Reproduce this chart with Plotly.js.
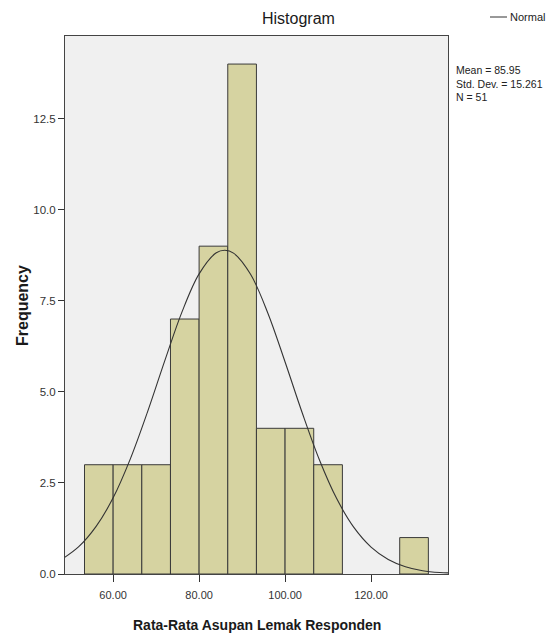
<!DOCTYPE html>
<html>
<head>
<meta charset="utf-8">
<script src="https://cdn.plot.ly/plotly-3.0.1.min.js"></script>
<style>html,body{margin:0;padding:0;background:#fff;}#chart{width:548px;height:638px;}</style>
</head>
<body>
<div id="chart"></div>
<script>
// Histogram bins (centers) and frequencies
var binCenters = [56.67, 63.33, 70.00, 76.67, 83.33, 90.00, 96.67, 103.33, 110.00, 130.00];
var binCounts  = [3, 3, 3, 7, 9, 14, 4, 4, 3, 1];
var binWidth = 6.667;

// Normal curve (matches Mean 85.95, SD 15.261, N 51)
var curveX = [48, 52, 56, 60, 64, 68, 72, 76, 80, 84, 86, 88, 92, 96, 100, 104, 108, 112, 116, 120, 124, 128, 132, 136, 138];
var curveY = [0.40, 0.75, 1.30, 2.09, 3.16, 4.45, 5.85, 7.19, 8.24, 8.82, 8.89, 8.81, 8.22, 7.16, 5.82, 4.42, 3.13, 2.07, 1.28, 0.74, 0.40, 0.20, 0.09, 0.04, 0.03];

var xTicks = [60, 80, 100, 120];
var xTickText = ["60.00", "80.00", "100.00", "120.00"];
var yTicks = [0, 2.5, 5, 7.5, 10, 12.5];
var yTickText = ["0.0", "2.5", "5.0", "7.5", "10.0", "12.5"];

var statsLines = ["Mean = 85.95", "Std. Dev. = 15.261", "N = 51"];
var chartTitle = "Histogram";
var xTitle = "Rata-Rata Asupan Lemak Responden";
var yTitle = "Frequency";
var legendLabel = "Normal";

var FONT = "Liberation Sans, Arial, sans-serif";

// pixel helpers for paper coords (plot area 65..448 x, 36..574 y)
var L = 65, R = 448, T = 36, B = 574;
function px(x){ return (x - L) / (R - L); }
function py(y){ return (B - y) / (B - T); }

var bars = {
  type: 'bar',
  x: binCenters,
  y: binCounts,
  width: binCenters.map(function(){ return binWidth; }),
  marker: {color: '#d6d3a1', line: {color: '#3a3a3a', width: 1}},
  hoverinfo: 'x+y',
  showlegend: false
};
var curve = {
  type: 'scatter',
  mode: 'lines',
  x: curveX,
  y: curveY,
  line: {color: '#333333', width: 1.1, shape: 'spline'},
  showlegend: false
};

var annotations = [
  {xref: 'paper', yref: 'paper', x: px(298), y: py(18), text: chartTitle, showarrow: false,
   xanchor: 'center', yanchor: 'middle', font: {family: FONT, size: 16, color: '#1a1a1a'}},
  {xref: 'paper', yref: 'paper', x: px(508), y: py(17), text: legendLabel, showarrow: false,
   xanchor: 'left', yanchor: 'middle', font: {family: FONT, size: 11, color: '#222'}},
  {xref: 'paper', yref: 'paper', x: px(257), y: py(625), text: '<b>' + xTitle + '</b>', showarrow: false,
   xanchor: 'center', yanchor: 'middle', font: {family: FONT, size: 14, color: '#1a1a1a'}},
  {xref: 'paper', yref: 'paper', x: px(22), y: py(306), text: '<b>' + yTitle + '</b>', showarrow: false,
   textangle: -90, xanchor: 'center', yanchor: 'middle', font: {family: FONT, size: 16, color: '#1a1a1a'}},
  {xref: 'paper', yref: 'paper', x: px(454), y: py(83), text: statsLines.join('<br>'), showarrow: false,
   xanchor: 'left', yanchor: 'middle', align: 'left', font: {family: FONT, size: 10.5, color: '#222'}}
];

var layout = {
  width: 548, height: 638,
  margin: {l: L, r: 548 - R, t: T, b: 638 - B, pad: 0},
  paper_bgcolor: '#ffffff',
  plot_bgcolor: '#f0f0f0',
  bargap: 0,
  xaxis: {
    range: [48.8, 137.9],
    tickvals: xTicks, ticktext: xTickText,
    ticks: 'outside', ticklen: 7, tickcolor: '#333', tickwidth: 1,
    ticklabelstandoff: 4,
    showgrid: false, zeroline: false,
    showline: true, linecolor: '#444', linewidth: 1, mirror: true,
    tickfont: {family: FONT, size: 11, color: '#333'}
  },
  yaxis: {
    range: [0, 14.77],
    tickvals: yTicks, ticktext: yTickText,
    ticks: 'outside', ticklen: 6, tickcolor: '#333', tickwidth: 1,
    showgrid: false, zeroline: false,
    showline: true, linecolor: '#444', linewidth: 1, mirror: true,
    tickfont: {family: FONT, size: 11.5, color: '#333'}
  },
  shapes: [
    {type: 'line', xref: 'paper', yref: 'paper', x0: px(490), x1: px(507), y0: py(17), y1: py(17),
     line: {color: '#333', width: 1}}
  ],
  annotations: annotations,
  showlegend: false
};

Plotly.newPlot('chart', [bars, curve], layout, {displayModeBar: false, staticPlot: true});
</script>
</body>
</html>
